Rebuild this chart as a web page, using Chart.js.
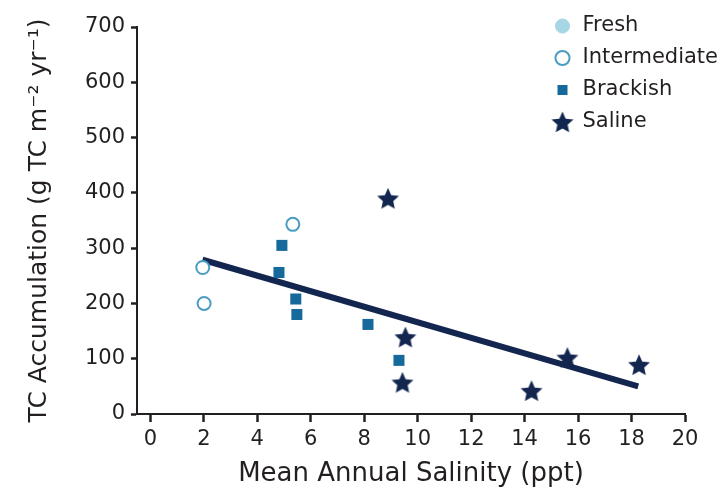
<!DOCTYPE html>
<html>
<head>
<meta charset="utf-8">
<script src="https://cdn.jsdelivr.net/npm/chart.js@4.4.1/dist/chart.umd.min.js"></script>
<style>
  html, body { margin: 0; padding: 0; background: #fff; }
  #wrap { width: 726px; height: 491px; }
</style>
</head>
<body>
<div id="wrap"><canvas id="myChart"></canvas></div>
<script>
// values
var groups = ['Fresh', 'Intermediate', 'Brackish', 'Saline'];

var freshSal = [];
var freshTC = [];

var interSal = [1.96, 2.01, 5.33];
var interTC = [265, 200, 343];

var brackSal = [4.92, 4.81, 5.44, 5.48, 8.14, 9.30];
var brackTC = [305, 256, 208, 180, 162, 97];

var salineSal = [8.89, 9.54, 9.43, 14.26, 15.6, 18.28];
var salineTC = [390, 139, 57, 42, 102, 89];

// regression line end points
var fitSal = [1.95, 18.25];
var fitTC = [279, 50];

var xTicks = [0, 2, 4, 6, 8, 10, 12, 14, 16, 18, 20];
var yTicks = [0, 100, 200, 300, 400, 500, 600, 700];

var xTitle = 'Mean Annual Salinity (ppt)';
var yTitle = 'TC Accumulation (g TC m\u207B\u00B2 yr\u207B\u00B9)';

var ink = '#231f20';
var fontName = '"DejaVu Sans", sans-serif';

function pts(xs, ys) {
  return xs.map(function (x, i) { return { x: x, y: ys[i] }; });
}

// filled five point star used as a point style
function makeStar(size, color) {
  var c = document.createElement('canvas');
  c.width = size; c.height = size;
  var g = c.getContext('2d');
  var R = size / 2 - 0.5, r = R * 0.47, cx = size / 2, cy = size / 2 + 1;
  g.beginPath();
  for (var i = 0; i < 10; i++) {
    var rad = (i % 2 === 0) ? R : r;
    var a = -Math.PI / 2 + i * Math.PI / 5;
    var px = cx + rad * Math.cos(a), py = cy + rad * Math.sin(a);
    if (i === 0) g.moveTo(px, py); else g.lineTo(px, py);
  }
  g.closePath();
  g.fillStyle = color;
  g.fill();
  return c;
}
var star = makeStar(24, '#13264f');

// put the legend inside the plot, top right
var legendSpot = {
  id: 'legendSpot',
  beforeDraw: function (chart) {
    var lg = chart.legend;
    lg.left = 542;
    lg.top = 4.5;
    lg.right = chart.width;
    lg.bottom = 200;
    lg.width = lg.right - lg.left;
    lg.height = lg.bottom - lg.top;
  }
};

var ctx = document.getElementById('myChart').getContext('2d');
var myChart = new Chart(ctx, {
  type: 'scatter',
  data: {
    datasets: [
      {
        label: groups[0],
        data: pts(freshSal, freshTC),
        backgroundColor: '#a6d6e4',
        borderColor: '#a6d6e4',
        borderWidth: 1,
        pointStyle: 'circle',
        pointRadius: 6.5,
        order: 0
      },
      {
        label: groups[1],
        data: pts(interSal, interTC),
        backgroundColor: '#ffffff',
        borderColor: '#4a9cc0',
        borderWidth: 2,
        pointStyle: 'circle',
        pointRadius: 6.5,
        order: 0
      },
      {
        label: groups[2],
        data: pts(brackSal, brackTC),
        backgroundColor: '#156a9b',
        borderColor: '#156a9b',
        borderWidth: 0,
        pointStyle: 'rect',
        pointRadius: 7.8,
        order: 0
      },
      {
        label: groups[3],
        data: pts(salineSal, salineTC),
        backgroundColor: '#13264f',
        borderColor: '#13264f',
        pointStyle: star,
        order: 0
      },
      {
        label: 'fit',
        type: 'line',
        data: pts(fitSal, fitTC),
        showLine: true,
        borderColor: '#13264f',
        borderWidth: 6,
        pointRadius: 0,
        fill: false,
        order: 1
      }
    ]
  },
  options: {
    responsive: true,
    maintainAspectRatio: false,
    animation: false,
    layout: { padding: { left: 0, right: 41, top: 27, bottom: 0 } },
    plugins: {
      tooltip: { enabled: false },
      legend: {
        position: 'chartArea',
        align: 'start',
        labels: {
          filter: function (item) { return item.text !== 'fit'; },
          usePointStyle: true,
          boxWidth: 19,
          boxHeight: 10,
          padding: 11,
          color: ink,
          font: { family: fontName, size: 21 }
        }
      }
    },
    scales: {
      x: {
        type: 'linear',
        min: -0.5,
        max: 20,
        afterBuildTicks: function (s) { s.ticks = xTicks.map(function (v) { return { value: v }; }); },
        afterFit: function (s) { s.height = 77; },
        grid: { drawOnChartArea: false, drawTicks: true, tickLength: 8, tickWidth: 2.5, tickColor: ink },
        border: { display: true, color: ink, width: 2 },
        ticks: { color: ink, padding: 5, font: { family: fontName, size: 21 } },
        title: {
          display: true,
          text: xTitle,
          color: ink,
          padding: { top: 0, bottom: 1 },
          font: { family: fontName, size: 26 }
        }
      },
      y: {
        type: 'linear',
        min: 0,
        max: 700,
        afterBuildTicks: function (s) { s.ticks = yTicks.map(function (v) { return { value: v }; }); },
        afterFit: function (s) { s.width = 137; },
        grid: { drawOnChartArea: false, drawTicks: true, tickLength: 6, tickWidth: 2.5, tickColor: ink },
        border: { display: true, color: ink, width: 2 },
        ticks: { color: ink, padding: 6, font: { family: fontName, size: 21 } },
        title: {
          display: true,
          text: yTitle,
          color: ink,
          padding: { top: 24, bottom: 0 },
          font: { family: fontName, size: 25 }
        }
      }
    }
  },
  plugins: [legendSpot]
});
</script>
</body>
</html>
